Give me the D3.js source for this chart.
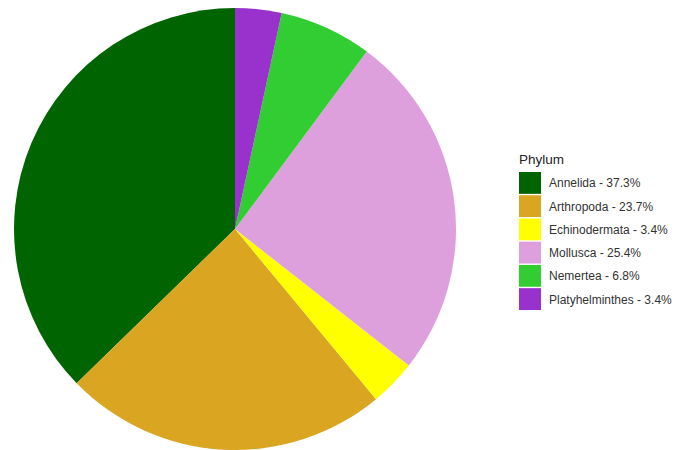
<!DOCTYPE html>
<html>
<head>
<meta charset="utf-8">
<script src="https://cdn.jsdelivr.net/npm/d3@7"></script>
<style>
  body { margin: 0; background: #fff; }
  svg { display: block; font-family: Arial, "Liberation Sans", sans-serif; }
</style>
</head>
<body>
<div id="chart"></div>
<script>
const WIDTH = 686;
const HEIGHT = 450;

// phylum counts (n = 59)
const phyla = ["Annelida", "Arthropoda", "Echinodermata", "Mollusca", "Nemertea", "Platyhelminthes"];
const counts = [22, 14, 2, 15, 4, 2];
const colors = ["#006400", "#DAA520", "#FFFF00", "#DDA0DD", "#32CD32", "#9932CC"];

const total = d3.sum(counts);
const data = phyla.map((p, i) => ({ name: p, value: counts[i], color: colors[i] }));
const pct = d => (100 * d.value / total).toFixed(1) + "%";

let svg = d3.select("#chart")
    .append("svg")
    .attr("width", WIDTH)
    .attr("height", HEIGHT);

let cx = 235, cy = 229, r = 221;

// slices run counterclockwise from 12 o'clock, first level first
let pie = d3.pie()
    .value(d => d.value)
    .sort(null)
    .startAngle(0)
    .endAngle(-2 * Math.PI);
let arc = d3.arc().innerRadius(0).outerRadius(r);

svg.append("g")
    .attr("transform", `translate(${cx},${cy})`)
    .selectAll("path")
    .data(pie(data))
    .enter()
    .append("path")
    .attr("d", arc)
    .attr("fill", d => d.data.color);

// legend
let legend = svg.append("g").attr("transform", "translate(519,0)");
legend.append("text")
    .attr("x", 0)
    .attr("y", 164)
    .attr("font-size", 13.5)
    .attr("fill", "#222")
    .text("Phylum");

let keyY = d3.scaleBand()
    .domain(phyla)
    .range([172, 172 + 23 * phyla.length])
    .paddingInner(0.06);

let rows = legend.selectAll(".key")
    .data(data)
    .enter()
    .append("g")
    .attr("class", "key");
rows.append("rect")
    .attr("x", 0)
    .attr("y", d => keyY(d.name))
    .attr("width", 22)
    .attr("height", keyY.bandwidth())
    .attr("fill", d => d.color);
rows.append("text")
    .attr("x", 30)
    .attr("y", d => keyY(d.name) + keyY.bandwidth() / 2)
    .attr("dy", "0.38em")
    .attr("font-size", 12)
    .attr("fill", "#333")
    .text(d => `${d.name} - ${pct(d)}`);
</script>
</body>
</html>
